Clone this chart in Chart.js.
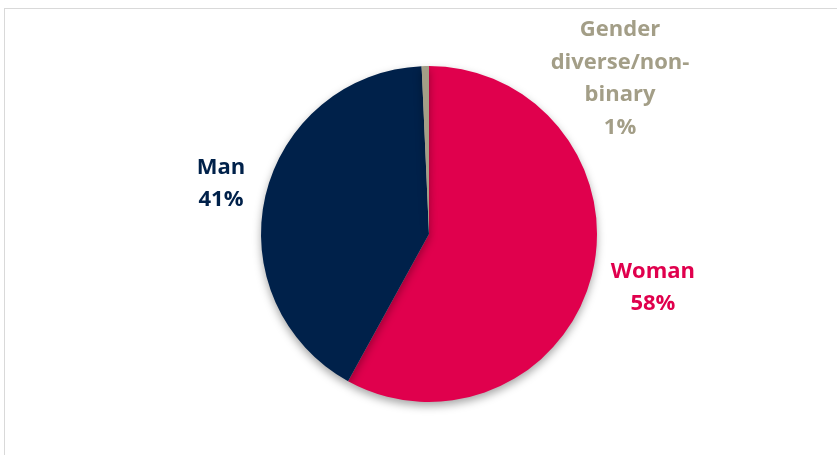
<!DOCTYPE html>
<html>
<head>
<meta charset="utf-8">
<script src="https://cdn.jsdelivr.net/npm/chart.js@4"></script>
<style>
  html, body { margin: 0; padding: 0; width: 837px; height: 455px; overflow: hidden; background: #fff; }
  #frame { position: absolute; left: 4px; top: 8px; width: 900px; height: 600px; border: 1px solid #d9d9d9; box-sizing: border-box; }
  #wrap { position: absolute; left: 0; top: 0; width: 837px; height: 455px; }
</style>
</head>
<body>
<div id="frame"></div>
<div id="wrap"><canvas id="c" width="837" height="455"></canvas></div>
<script>
const categories = ["Woman", "Man", "Gender diverse/non-binary"];
const values = [58.0, 41.3, 0.7];
const labelLines = [["Woman", "58%"], ["Man", "41%"], ["Gender", "diverse/non-", "binary", "1%"]];
const colors = ["#E0004D", "#00214A", "#A39E87"];
const labelColors = ["#E0004D", "#00214A", "#A39E87"];

// label anchor offsets relative to the pie centre, in units of the pie radius
const labelAnchors = [[1.333, 0.32], [-1.238, -0.30], [1.137, -0.923]];

const shadowPlugin = {
  id: 'shadow',
  beforeDatasetsDraw(chart) {
    const ctx = chart.ctx;
    ctx.save();
    ctx.shadowColor = 'rgba(0,0,0,0.35)';
    ctx.shadowBlur = 9;
    ctx.shadowOffsetX = 0;
    ctx.shadowOffsetY = 4;
  },
  afterDatasetsDraw(chart) {
    chart.ctx.restore();
  }
};

const labelPlugin = {
  id: 'pieLabels',
  afterDraw(chart) {
    const ctx = chart.ctx;
    const arc = chart.getDatasetMeta(0).data[0];
    const cx = arc.x, cy = arc.y, r = arc.outerRadius;
    ctx.save();
    ctx.font = 'bold 22px "Open Sans", sans-serif';
    ctx.textAlign = 'center';
    ctx.textBaseline = 'middle';
    const lh = 32.5;
    labelLines.forEach((lines, i) => {
      const ax = cx + labelAnchors[i][0] * r;
      const ay = cy + labelAnchors[i][1] * r;
      const startY = ay - (lines.length - 1) * lh / 2;
      ctx.fillStyle = labelColors[i];
      lines.forEach((t, j) => ctx.fillText(t, ax, startY + j * lh));
    });
    ctx.restore();
  }
};

new Chart(document.getElementById('c'), {
  type: 'pie',
  data: {
    labels: categories,
    datasets: [{
      data: values,
      backgroundColor: colors,
      borderWidth: 0
    }]
  },
  options: {
    responsive: false,
    animation: false,
    layout: { padding: { left: 21, right: 0, top: 66, bottom: 53 } },
    plugins: {
      legend: { display: false },
      tooltip: { enabled: false }
    }
  },
  plugins: [shadowPlugin, labelPlugin]
});
</script>
</body>
</html>
